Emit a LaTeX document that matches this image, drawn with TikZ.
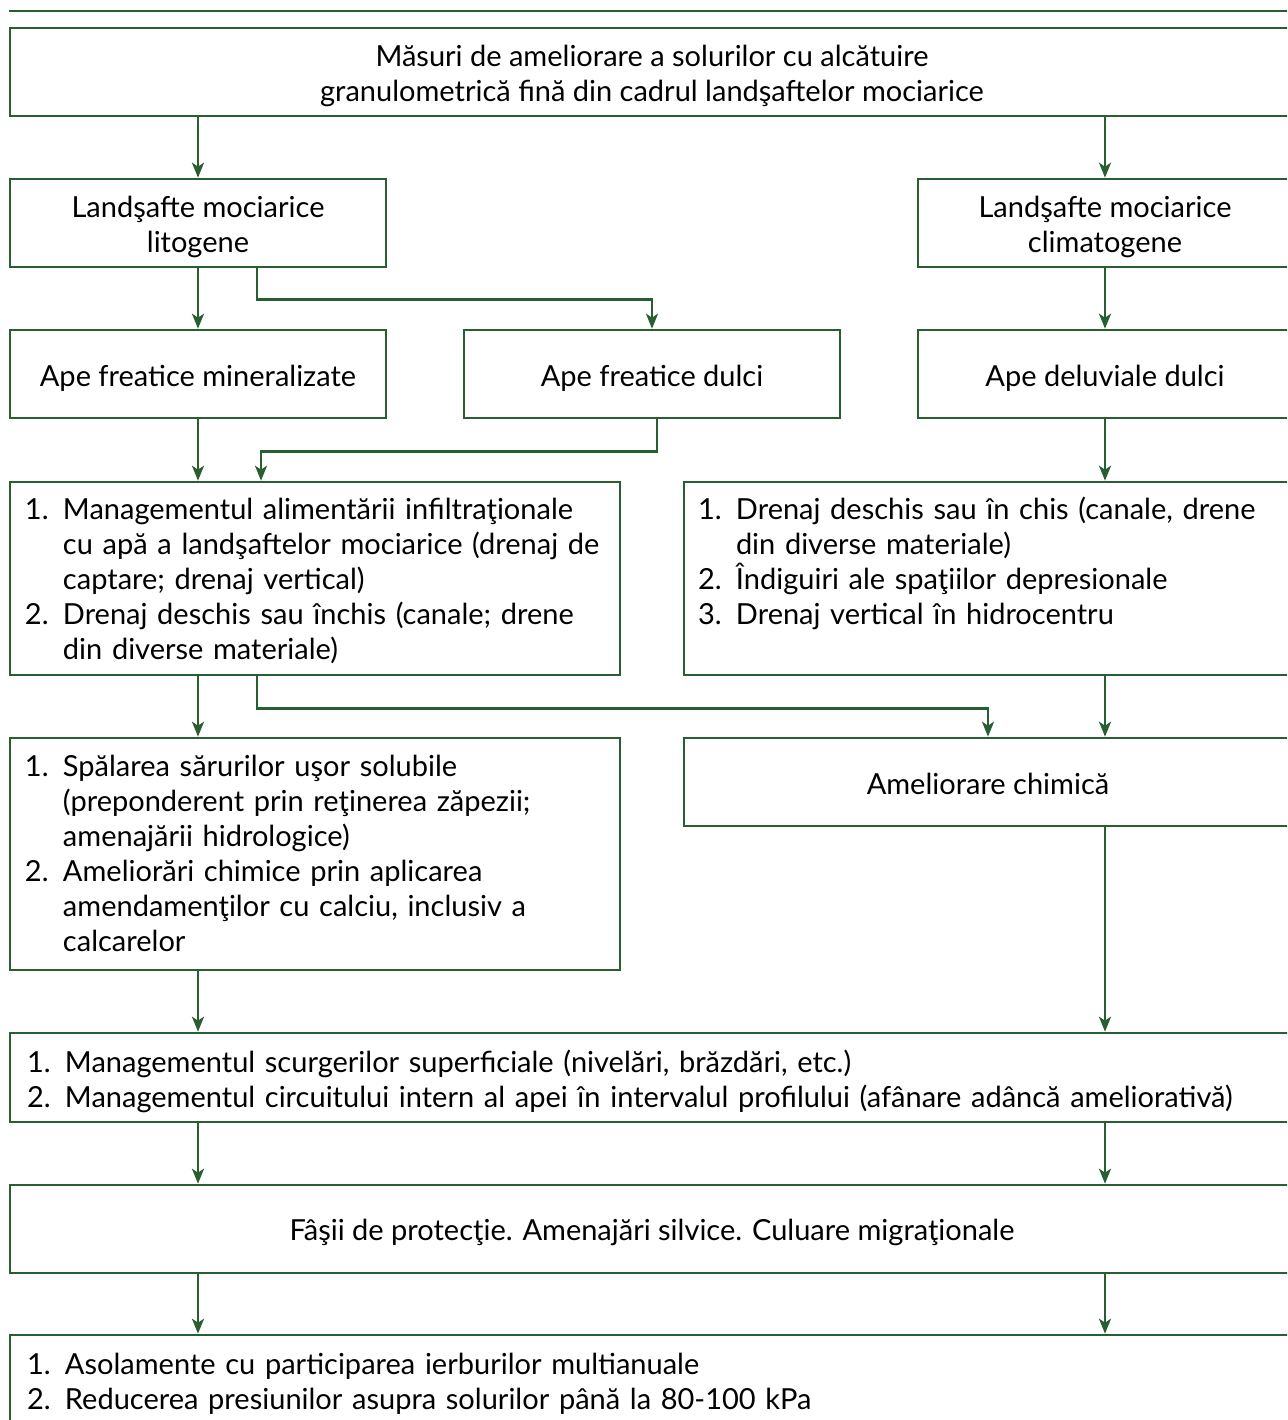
\documentclass[tikz,border=0pt]{standalone}
\usepackage{fontspec}
\setmainfont{Lato}
\usetikzlibrary{arrows.meta}
\definecolor{frame}{RGB}{40,94,50}

% line strut: fixes the box extent of a text line (height 14.6pt, depth 2.6pt)
\newcommand{\linestrut}{\rule[-2.6pt]{0pt}{17.2pt}}
% numbered entry with hanging indent
\newcommand{\entry}[2]{\par\noindent\hangindent=19pt\hangafter=1%
  \makebox[19pt][l]{#1}\linestrut#2\linestrut\par}
% closing space below a list
\newcommand{\listend}[1][4pt]{\par\kern#1}

\tikzset{
  frame/.style={draw=frame, line width=1.3pt, inner xsep=0pt, inner ysep=0pt,
    font=\fontsize{14.5}{17.5}\selectfont},
  box/.style={frame, align=center},
  listbox/.style={frame, align=left},
  link/.style={draw=frame, line width=1.3pt,
    -{Stealth[length=7.5pt,width=6pt,inset=2pt]}},
}

\begin{document}
\begin{tikzpicture}[x=0.5pt,y=-0.5pt]
\path[use as bounding box, clip] (0,0) rectangle (1287,1420);

% header rule
\draw[frame, line width=1pt] (9,11) -- (1300,11);

% boxes
\node[box, minimum width=642pt, minimum height=44pt] (title) at (652,72)
  {\linestrut Măsuri de ameliorare a solurilor cu alcătuire\\granulometrică fină din cadrul landşaftelor mociarice\linestrut};

\node[box, minimum width=188pt, minimum height=44pt] (litogene) at (198,223)
  {\linestrut Landşafte mociarice\\litogene\linestrut};
\node[box, minimum width=187pt, minimum height=44pt] (climatogene) at (1105,223)
  {\linestrut Landşafte mociarice\\climatogene\linestrut};

\node[box, minimum width=188pt, minimum height=44pt] (mineral) at (198,374)
  {\linestrut Ape freatice mineralizate};
\node[box, minimum width=188pt, minimum height=44pt] (dulci) at (652,374)
  {\linestrut Ape freatice dulci};
\node[box, minimum width=187pt, minimum height=44pt] (deluv) at (1105,374)
  {\linestrut Ape deluviale dulci};

\node[listbox, text width=290pt, inner xsep=7.5pt, minimum height=96.5pt] (mgmt) at (315,578.5)
  {\entry{1.}{Managementul alimentării infiltraţionale\newline cu apă a landşaftelor mociarice (drenaj de\newline captare; drenaj vertical)}%
   \entry{2.}{Drenaj deschis sau închis (canale; drene\newline din diverse materiale)}\listend};

\node[listbox, text width=290pt, inner xsep=7pt, minimum height=96.5pt] (drenaj) at (988,578.5)
  {\entry{1.}{Drenaj deschis sau în chis (canale, drene\newline din diverse materiale)}%
   \entry{2.}{Îndiguiri ale spaţiilor depresionale}%
   \entry{3.}{Drenaj vertical în hidrocentru}\noindent\linestrut\listend};

\node[listbox, text width=290pt, inner xsep=7.5pt, minimum height=116pt] (spal) at (315,854)
  {\entry{1.}{Spălarea sărurilor uşor solubile\newline (preponderent prin reţinerea zăpezii;\newline amenajării hidrologice)}%
   \entry{2.}{Ameliorări chimice prin aplicarea\newline amendamenţilor cu calciu, inclusiv a\newline calcarelor}\listend[5pt]};

\node[box, minimum width=304pt, minimum height=44pt] (chim) at (988,782)
  {\linestrut Ameliorare chimică};

\node[listbox, text width=625pt, inner xsep=8.5pt, minimum height=44.5pt] (scurg) at (652,1077.5)
  {\entry{1.}{Managementul scurgerilor superficiale (nivelări, brăzdări, etc.)}%
   \entry{2.}{Managementul circuitului intern al apei în intervalul profilului (afânare adâncă ameliorativă)}\listend[2pt]};

\node[box, minimum width=642pt, minimum height=44pt] (fasii) at (652,1229)
  {\linestrut Fâşii de protecţie. Amenajări silvice. Culuare migraţionale};

\node[listbox, text width=625pt, inner xsep=8.5pt, minimum height=47.5pt] (last) at (652,1382.5)
  {\entry{1.}{Asolamente cu participarea ierburilor multianuale}%
   \entry{2.}{Reducerea presiunilor asupra solurilor până la 80-100 kPa}\listend[5pt]};

% connectors
\draw[link] (title.south -| litogene.north) -- (litogene.north);
\draw[link] (title.south -| climatogene.north) -- (climatogene.north);

\draw[link] (litogene.south) -- (mineral.north);
\draw[link] ([xshift=29.5pt]litogene.south) -- ++(0,31) -| (dulci.north);
\draw[link] (climatogene.south) -- (deluv.north);

\draw[link] (mineral.south) -- (mineral.south |- mgmt.north);
\draw[link] ([xshift=2.5pt]dulci.south) -- ++(0,32) -| ([xshift=-27pt]mgmt.north);
\draw[link] (deluv.south) -- (deluv.south |- drenaj.north);

\draw[link] (mgmt.south -| litogene.center) -- (spal.north -| litogene.center);
\draw[link] ([xshift=-29pt]mgmt.south) -- ++(0,32) -| (chim.north);
\draw[link] (drenaj.south -| deluv.center) -- (chim.north -| deluv.center);

\draw[link] (spal.south -| litogene.center) -- (scurg.north -| litogene.center);
\draw[link] (chim.south -| deluv.center) -- (scurg.north -| deluv.center);

\draw[link] (scurg.south -| litogene.center) -- (fasii.north -| litogene.center);
\draw[link] (scurg.south -| deluv.center) -- (fasii.north -| deluv.center);

\draw[link] (fasii.south -| litogene.center) -- (last.north -| litogene.center);
\draw[link] (fasii.south -| deluv.center) -- (last.north -| deluv.center);
\end{tikzpicture}
\end{document}
